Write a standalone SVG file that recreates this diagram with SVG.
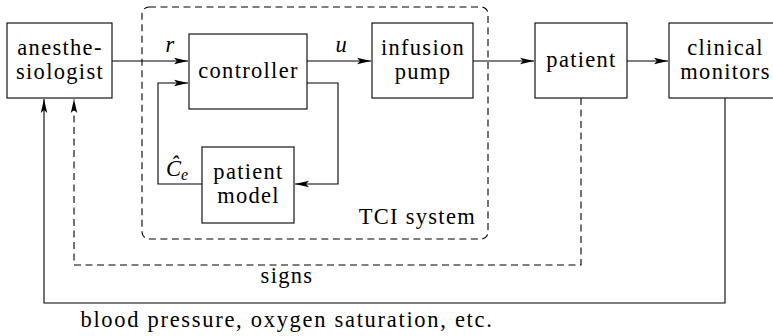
<svg xmlns="http://www.w3.org/2000/svg" width="773" height="336" viewBox="0 0 773 336" font-family="'Liberation Serif', 'DejaVu Serif', serif">
<defs>
<style>
.box{fill:#fff;stroke:#000;stroke-width:1.1}
.ln{fill:none;stroke:#000;stroke-width:1.1}
.ds{fill:none;stroke:#000;stroke-width:1.1;stroke-dasharray:7 4.5}
text{font-size:22.5px;letter-spacing:1.3px;fill:#000}
.c{text-anchor:middle}
.it{font-style:italic;letter-spacing:0}
</style>
<marker id="ah" markerWidth="14" markerHeight="8" refX="14" refY="4" orient="auto" markerUnits="userSpaceOnUse">
<path d="M0,0.8 L14,4 L0,7.2 L3,4 Z" fill="#000"/>
</marker>
</defs>
<rect width="773" height="336" fill="#fff"/>
<g id="tci">
<rect x="142" y="7" width="346" height="232" rx="7" class="ds"/>
<text x="476" y="224" text-anchor="end">TCI system</text>
</g>
<g id="connectors">
<path class="ln" d="M112,61 H188" marker-end="url(#ah)"/>
<path class="ln" d="M307,61 H371" marker-end="url(#ah)"/>
<path class="ln" d="M473,61 H534" marker-end="url(#ah)"/>
<path class="ln" d="M627,61 H668" marker-end="url(#ah)"/>
<path class="ln" d="M307,83 H338 V184 H295" marker-end="url(#ah)"/>
<path class="ln" d="M202,184 H158 V83 H188" marker-end="url(#ah)"/>
<path class="ds" d="M581,98 V265 H74 V99" marker-end="url(#ah)"/>
<path class="ln" d="M725,98 V303 H44 V99" marker-end="url(#ah)"/>
<text x="170" y="52" class="c it">r</text>
<text x="341" y="52" class="c it">u</text>
<text x="166" y="176" class="it">Ĉ<tspan font-size="16" dy="4">e</tspan></text>
<text x="287" y="283" class="c">signs</text>
<text x="287" y="327" class="c" style="letter-spacing:1.7px">blood pressure, oxygen saturation, etc.</text>
</g>
<g id="anesthesiologist">
<rect x="7" y="23" width="105" height="75" class="box"/>
<text x="60" y="55" class="c">anesthe-</text>
<text x="60" y="79" class="c">siologist</text>
</g>
<g id="controller">
<rect x="189" y="34" width="118" height="75" class="box"/>
<text x="248.5" y="78" class="c">controller</text>
</g>
<g id="infusion-pump">
<rect x="372" y="23" width="101" height="75" class="box"/>
<text x="423" y="55" class="c">infusion</text>
<text x="423" y="79" class="c">pump</text>
</g>
<g id="patient">
<rect x="535" y="23" width="92" height="75" class="box"/>
<text x="581.5" y="67" class="c">patient</text>
</g>
<g id="clinical-monitors">
<rect x="669" y="23" width="120" height="75" class="box"/>
<text x="725.5" y="55" class="c">clinical</text>
<text x="725.5" y="79" class="c">monitors</text>
</g>
<g id="patient-model">
<rect x="202" y="147" width="92" height="76" class="box"/>
<text x="248.5" y="179" class="c">patient</text>
<text x="248.5" y="203" class="c">model</text>
</g>
</svg>
